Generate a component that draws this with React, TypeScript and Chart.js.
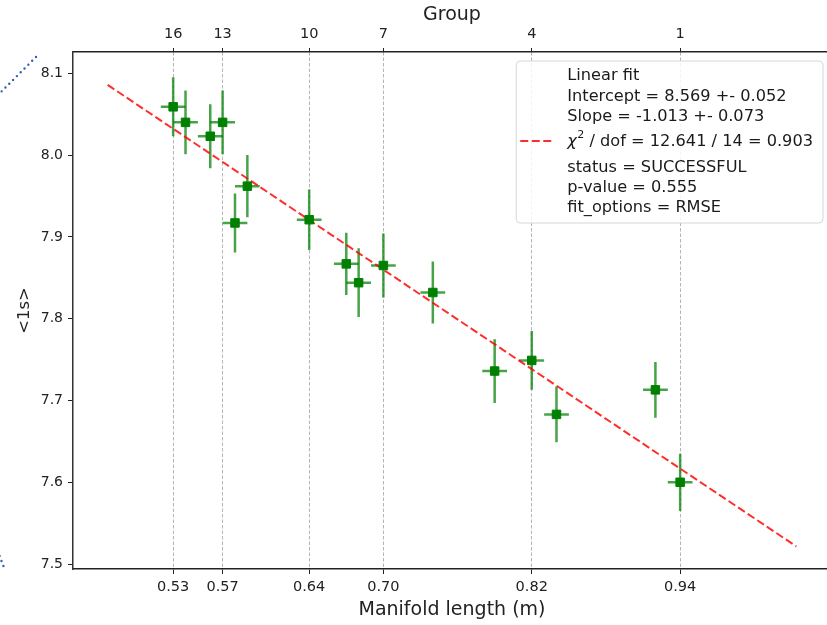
import React, { useEffect, useRef } from "react";
import { Chart, registerables } from "chart.js";

Chart.register(...registerables);

// ---- data ----
const manifoldLengths = [0.53, 0.54, 0.56, 0.57, 0.58, 0.59, 0.64, 0.67, 0.68, 0.70, 0.74, 0.79, 0.82, 0.84, 0.92, 0.94];
const meanValues = [8.059, 8.040, 8.023, 8.040, 7.917, 7.962, 7.921, 7.867, 7.844, 7.865, 7.832, 7.736, 7.749, 7.683, 7.713, 7.600];
const meanErrors = [0.036, 0.039, 0.039, 0.039, 0.036, 0.038, 0.037, 0.038, 0.042, 0.039, 0.038, 0.039, 0.036, 0.034, 0.034, 0.035];
const lengthErrors = [0.01, 0.01, 0.01, 0.01, 0.01, 0.01, 0.01, 0.01, 0.01, 0.01, 0.01, 0.01, 0.01, 0.01, 0.01, 0.01];

const tickPositions = [0.53, 0.57, 0.64, 0.70, 0.82, 0.94];
const lengthTickLabels = ["0.53", "0.57", "0.64", "0.70", "0.82", "0.94"];
const groupTickLabels = ["16", "13", "10", "7", "4", "1"];
const yTickValues = [7.5, 7.6, 7.7, 7.8, 7.9, 8.0, 8.1];

const fitIntercept = 8.569;
const fitSlope = -1.013;
const fitXRange = [0.477, 1.034];

const legendLines = [
  "Linear fit",
  "Intercept = 8.569 +- 0.052",
  "Slope = -1.013 +- 0.073",
  "χ² / dof = 12.641 / 14 = 0.903",
  "status = SUCCESSFUL",
  "p-value = 0.555",
  "fit_options = RMSE",
];

const FONT = '"DejaVu Sans", "Noto Sans", sans-serif';
const ERR_COLOR = "rgba(0,128,0,0.72)";
const FIT_COLOR = "rgba(255,0,0,0.82)";
const FIT_DASH = [8, 3.5];
const LEGEND_SIZE = 16.2;

const errorBarPlugin = {
  id: "errorBars",
  beforeDatasetsDraw(chart: any) {
    const { ctx, chartArea, scales } = chart;
    const x = scales.x;
    const y = scales.y;
    ctx.save();
    ctx.beginPath();
    ctx.rect(chartArea.left, chartArea.top, chartArea.right - chartArea.left, chartArea.bottom - chartArea.top);
    ctx.clip();
    ctx.strokeStyle = ERR_COLOR;
    ctx.lineWidth = 2.5;
    manifoldLengths.forEach((lx, i) => {
      const px = x.getPixelForValue(lx);
      const py = y.getPixelForValue(meanValues[i]);
      ctx.beginPath();
      ctx.moveTo(x.getPixelForValue(lx - lengthErrors[i]), py);
      ctx.lineTo(x.getPixelForValue(lx + lengthErrors[i]), py);
      ctx.moveTo(px, y.getPixelForValue(meanValues[i] - meanErrors[i]));
      ctx.lineTo(px, y.getPixelForValue(meanValues[i] + meanErrors[i]));
      ctx.stroke();
    });
    ctx.restore();
  },
};

function drawLegendLine(ctx: CanvasRenderingContext2D, text: string, x: number, y: number, draw: boolean): number {
  if (text.startsWith("χ²")) {
    let cx = x;
    ctx.font = `italic ${LEGEND_SIZE}px ${FONT}`;
    if (draw) ctx.fillText("χ", cx, y);
    cx += ctx.measureText("χ").width + 0.5;
    ctx.font = `11px ${FONT}`;
    if (draw) ctx.fillText("2", cx, y - 6);
    cx += ctx.measureText("2").width;
    ctx.font = `${LEGEND_SIZE}px ${FONT}`;
    const rest = text.slice(2);
    if (draw) ctx.fillText(rest, cx, y);
    cx += ctx.measureText(rest).width;
    return cx - x;
  }
  ctx.font = `${LEGEND_SIZE}px ${FONT}`;
  if (draw) ctx.fillText(text, x, y);
  return ctx.measureText(text).width;
}

const legendPlugin = {
  id: "fitLegend",
  afterDraw(chart: any) {
    const { ctx, chartArea } = chart;
    ctx.save();
    ctx.textBaseline = "middle";
    ctx.textAlign = "left";
    const widths = legendLines.map((t) => drawLegendLine(ctx, t, 0, 0, false));
    const maxW = Math.max(...widths);
    const boxRight = chartArea.right - 8;
    const boxTop = chartArea.top + 9;
    const textLeft = boxRight - 10 - maxW;
    const boxLeft = textLeft - 51;
    const boxH = 162;
    const r = 4;
    ctx.beginPath();
    ctx.moveTo(boxLeft + r, boxTop);
    ctx.lineTo(boxRight - r, boxTop);
    ctx.arcTo(boxRight, boxTop, boxRight, boxTop + r, r);
    ctx.lineTo(boxRight, boxTop + boxH - r);
    ctx.arcTo(boxRight, boxTop + boxH, boxRight - r, boxTop + boxH, r);
    ctx.lineTo(boxLeft + r, boxTop + boxH);
    ctx.arcTo(boxLeft, boxTop + boxH, boxLeft, boxTop + boxH - r, r);
    ctx.lineTo(boxLeft, boxTop + r);
    ctx.arcTo(boxLeft, boxTop, boxLeft + r, boxTop, r);
    ctx.closePath();
    ctx.fillStyle = "rgba(255,255,255,0.85)";
    ctx.fill();
    ctx.strokeStyle = "#d6d6d6";
    ctx.lineWidth = 1;
    ctx.stroke();
    ctx.beginPath();
    ctx.setLineDash(FIT_DASH);
    ctx.strokeStyle = FIT_COLOR;
    ctx.lineWidth = 2;
    const hy = boxTop + boxH / 2 - 1;
    ctx.moveTo(boxLeft + 4, hy);
    ctx.lineTo(boxLeft + 35, hy);
    ctx.stroke();
    ctx.setLineDash([]);
    ctx.fillStyle = "#1a1a1a";
    legendLines.forEach((t, i) => {
      const off = 15.2 + i * 20.2 + (i >= 3 ? 4.5 : 0) + (i >= 4 ? 5.8 : 0);
      drawLegendLine(ctx, t, textLeft, boxTop + off, true);
    });
    ctx.restore();
  },
};

// faint leftover connector marks at the left edge of the original screenshot
const edgeMarksPlugin = {
  id: "edgeMarks",
  afterDraw(chart: any) {
    const { ctx, chartArea } = chart;
    const ox = chartArea.left - 73;
    const oy = chartArea.top - 52;
    ctx.save();
    ctx.strokeStyle = "#2f62ad";
    ctx.lineWidth = 2.4;
    ctx.lineCap = "round";
    ctx.setLineDash([0, 5.4]);
    ctx.beginPath();
    ctx.moveTo(ox + 36, oy + 57);
    ctx.lineTo(ox - 2, oy + 95);
    ctx.stroke();
    ctx.beginPath();
    ctx.moveTo(ox + 3.4, oy + 566);
    ctx.lineTo(ox - 1.5, oy + 553);
    ctx.stroke();
    ctx.restore();
  },
};

export default function App() {
  const canvasRef = useRef<HTMLCanvasElement | null>(null);

  useEffect(() => {
    if (!canvasRef.current) return;
    Chart.defaults.font.family = FONT;
    const points = manifoldLengths.map((lx, i) => ({ x: lx, y: meanValues[i] }));
    const fitPoints = fitXRange.map((fx) => ({ x: fx, y: fitIntercept + fitSlope * fx }));

    const tickFont = { family: FONT, size: 14.5 };
    const titleFont = { family: FONT, size: 19 };

    const chart = new Chart(canvasRef.current, {
      type: "scatter",
      data: {
        datasets: [
          {
            label: "data",
            data: points,
            pointStyle: "rect",
            pointRadius: 6,
            pointBackgroundColor: "#008000",
            pointBorderColor: "#008000",
            pointBorderWidth: 1,
            showLine: false,
            order: 0,
          } as any,
          {
            type: "line",
            label: "Linear fit",
            data: fitPoints,
            borderColor: FIT_COLOR,
            borderWidth: 2,
            borderDash: FIT_DASH,
            pointRadius: 0,
            fill: false,
            tension: 0,
            order: 1,
          } as any,
        ],
      },
      options: {
        animation: false,
        responsive: false,
        devicePixelRatio: 1,
        layout: { padding: { left: 0, top: 0, bottom: 0, right: 14 }, autoPadding: false },
        plugins: {
          legend: { display: false },
          tooltip: { enabled: false },
          title: { display: false },
        },
        scales: {
          x: {
            type: "linear",
            position: "bottom",
            min: 0.449,
            max: 1.062,
            afterBuildTicks: (axis: any) => {
              axis.ticks = tickPositions.map((v) => ({ value: v }));
            },
            afterFit: (axis: any) => {
              axis.height = 56;
            },
            ticks: {
              autoSkip: false,
              maxRotation: 0,
              padding: 5,
              color: "#222",
              font: tickFont,
              callback: (_v: any, i: number) => lengthTickLabels[i],
            },
            grid: {
              display: true,
              drawOnChartArea: true,
              drawTicks: true,
              color: "#b4b4b4",
              lineWidth: 1,
              tickLength: 5,
              tickColor: "#222",
              tickWidth: 1,
              tickBorderDash: [],
            },
            border: { display: true, color: "#222", width: 1.5, dash: [3.5, 2] },
            title: {
              display: true,
              text: "Manifold length (m)",
              color: "#222",
              font: titleFont,
              padding: { top: 0, bottom: 4 },
            },
          },
          x2: {
            type: "linear",
            position: "top",
            min: 0.449,
            max: 1.062,
            afterBuildTicks: (axis: any) => {
              axis.ticks = tickPositions.map((v) => ({ value: v }));
            },
            afterFit: (axis: any) => {
              axis.height = 52;
            },
            ticks: {
              autoSkip: false,
              maxRotation: 0,
              padding: 5,
              color: "#222",
              font: tickFont,
              callback: (_v: any, i: number) => groupTickLabels[i],
            },
            grid: {
              display: true,
              drawOnChartArea: false,
              drawTicks: true,
              tickLength: 4,
              tickColor: "#222",
              tickWidth: 1,
              tickBorderDash: [],
            },
            border: { display: true, color: "#222", width: 1.5 },
            title: {
              display: true,
              text: "Group",
              color: "#222",
              font: titleFont,
              padding: { top: 4, bottom: 0 },
            },
          },
          y: {
            type: "linear",
            position: "left",
            min: 7.494,
            max: 8.126,
            afterBuildTicks: (axis: any) => {
              axis.ticks = yTickValues.map((v) => ({ value: v }));
            },
            afterFit: (axis: any) => {
              axis.width = 73;
            },
            ticks: {
              padding: 5,
              color: "#222",
              font: { family: FONT, size: 14 },
              callback: (v: any) => Number(v).toFixed(1),
            },
            grid: {
              display: true,
              drawOnChartArea: false,
              drawTicks: true,
              tickLength: 5,
              tickColor: "#222",
              tickWidth: 1,
              tickBorderDash: [],
            },
            border: { display: true, color: "#333", width: 1.5 },
            title: {
              display: true,
              text: "<1s>",
              color: "#222",
              font: { family: FONT, size: 16.5 },
              padding: { top: 15, bottom: 0 },
            },
          },
        },
      } as any,
      plugins: [errorBarPlugin, legendPlugin, edgeMarksPlugin],
    });
    return () => chart.destroy();
  }, []);

  return (
    <div
      style={{
        position: "absolute",
        left: 0,
        top: 0,
        width: 827,
        height: 625,
        overflow: "hidden",
        background: "#fff",
      }}
    >
      <canvas ref={canvasRef} width={845} height={625} style={{ display: "block" }} />
    </div>
  );
}
